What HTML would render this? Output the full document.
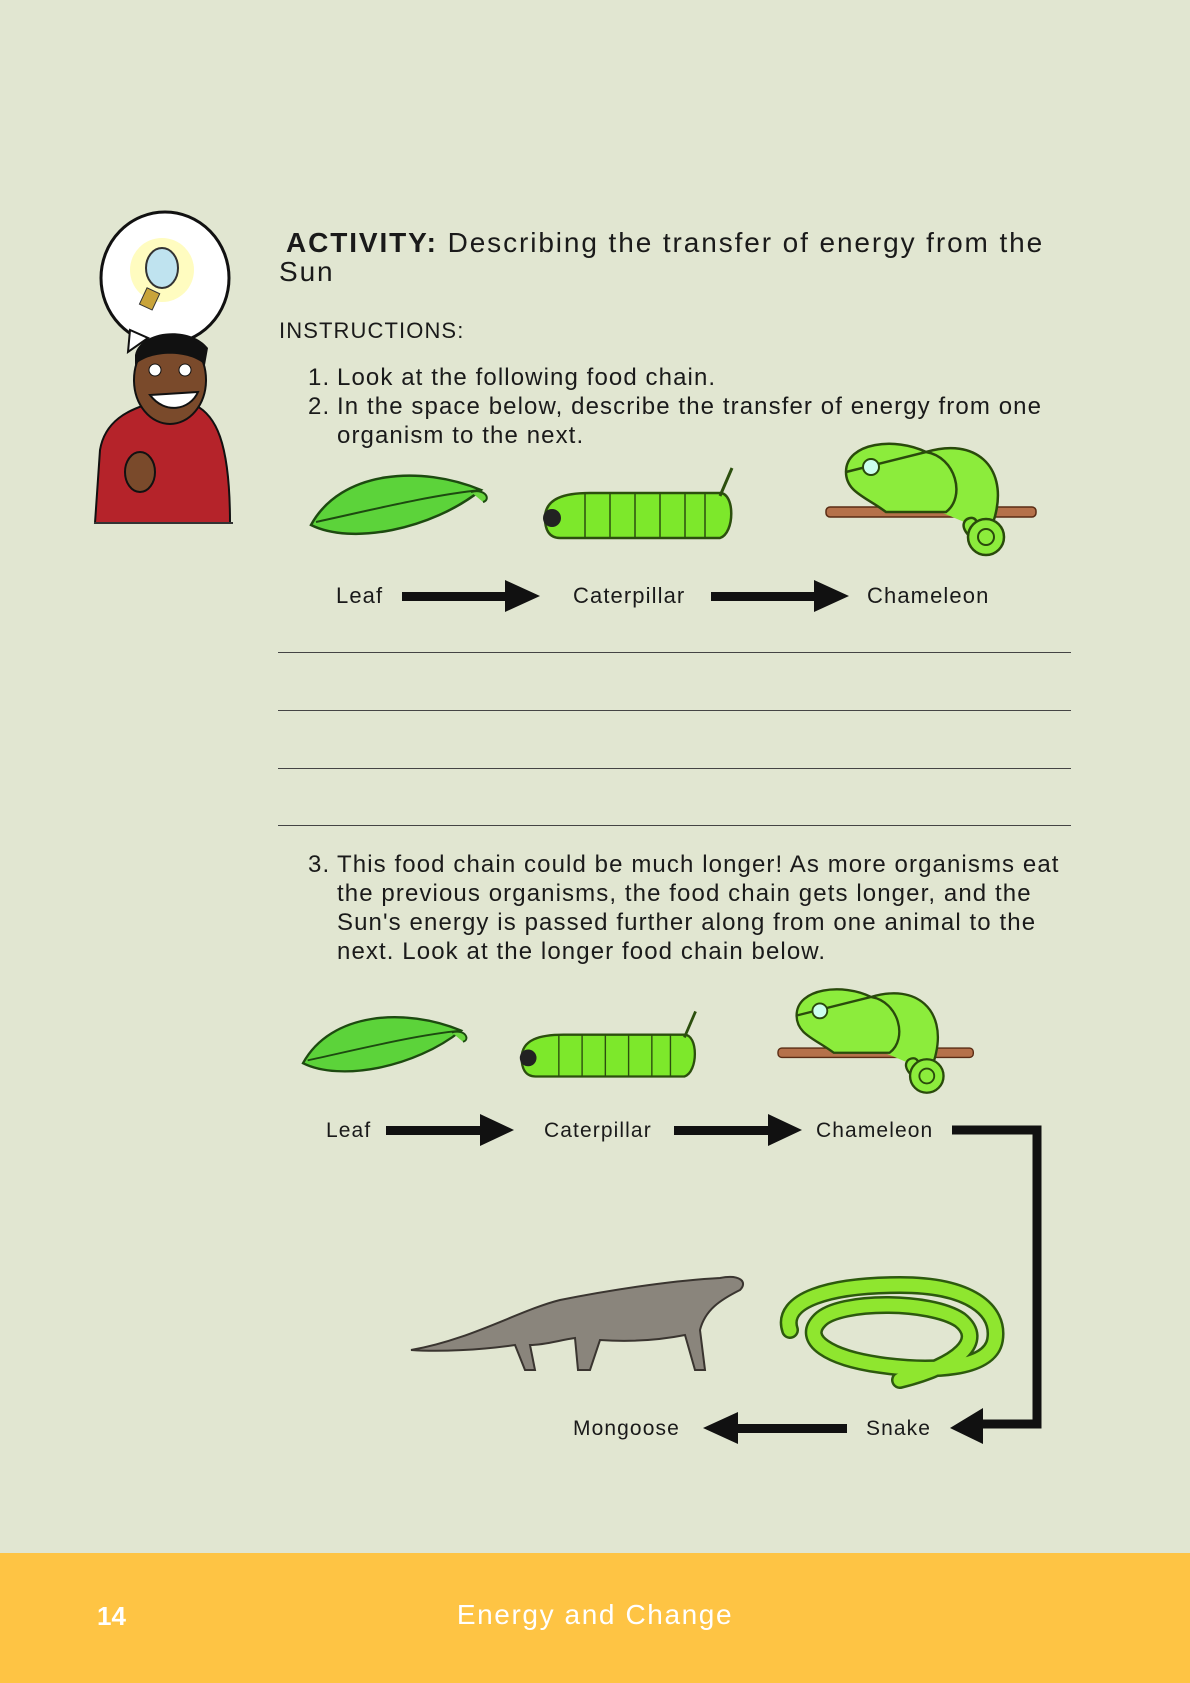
<!DOCTYPE html>
<html><head><meta charset="utf-8"><style>
body{margin:0;width:1190px;height:1683px;background:#e1e6d1;position:relative;overflow:hidden;font-family:"Liberation Sans",sans-serif;color:#1a1a1a}
.t{position:absolute;white-space:nowrap;font-size:24px;line-height:1;letter-spacing:1.1px}
.lbl{position:absolute;white-space:nowrap;font-size:22px;line-height:1;letter-spacing:1.1px}
.rule{position:absolute;left:278px;width:793px;height:1px;background:#444}
svg{position:absolute;left:0;top:0}
</style></head><body>
<div class="t" style="left:286px;top:229px;font-size:28px;letter-spacing:1.9px"><b>ACTIVITY:</b> Describing the transfer of energy from the</div>
<div class="t" style="left:279px;top:258px;font-size:28px;letter-spacing:1.9px">Sun</div>
<div class="t" style="left:279px;top:320px;font-size:22px">INSTRUCTIONS:</div>
<div class="t" style="left:308px;top:366px">1.</div>
<div class="t" style="left:337px;top:366px">Look at the following food chain.</div>
<div class="t" style="left:308px;top:395px">2.</div>
<div class="t" style="left:337px;top:395px">In the space below, describe the transfer of energy from one</div>
<div class="t" style="left:337px;top:424px">organism to the next.</div>

<div class="lbl" style="left:336px;top:585px">Leaf</div>
<div class="lbl" style="left:573px;top:585px">Caterpillar</div>
<div class="lbl" style="left:867px;top:585px">Chameleon</div>

<div class="rule" style="top:652px"></div>
<div class="rule" style="top:710px"></div>
<div class="rule" style="top:768px"></div>
<div class="rule" style="top:825px"></div>

<div class="t" style="left:308px;top:853px">3.</div>
<div class="t" style="left:337px;top:853px">This food chain could be much longer! As more organisms eat</div>
<div class="t" style="left:337px;top:882px">the previous organisms, the food chain gets longer, and the</div>
<div class="t" style="left:337px;top:911px">Sun's energy is passed further along from one animal to the</div>
<div class="t" style="left:337px;top:940px">next. Look at the longer food chain below.</div>

<div class="lbl" style="left:326px;top:1120px;font-size:21px">Leaf</div>
<div class="lbl" style="left:544px;top:1120px;font-size:21px">Caterpillar</div>
<div class="lbl" style="left:816px;top:1120px;font-size:21px">Chameleon</div>
<div class="lbl" style="left:573px;top:1418px;font-size:21px">Mongoose</div>
<div class="lbl" style="left:866px;top:1418px;font-size:21px">Snake</div>

<svg width="1190" height="1683">
<defs>
<g id="leaf"><path d="M0,55 C30,0 110,-5 170,20 C120,60 40,75 0,55Z" fill="#5cd33a" stroke="#1d4a10" stroke-width="2.5"/><path d="M5,52 C60,40 120,25 170,20" stroke="#1d4a10" stroke-width="2" fill="none"/><path d="M160,22 C175,18 180,30 172,32" fill="#6ad63f" stroke="#1d4a10" stroke-width="2"/></g>
<g id="cat"><path d="M5,30 C5,10 25,5 50,5 L180,5 C195,5 195,45 180,50 L20,50 C8,50 5,40 5,30Z" fill="#7de82b" stroke="#2c4f0e" stroke-width="2.5"/><path d="M180,8 L192,-20" stroke="#2c4f0e" stroke-width="3"/><circle cx="12" cy="30" r="9" fill="#222"/><g stroke="#2c4f0e" stroke-width="1.5"><line x1="45" y1="5" x2="45" y2="50"/><line x1="70" y1="5" x2="70" y2="50"/><line x1="95" y1="5" x2="95" y2="50"/><line x1="120" y1="5" x2="120" y2="50"/><line x1="145" y1="5" x2="145" y2="50"/><line x1="165" y1="5" x2="165" y2="50"/></g></g>
<g id="cham"><rect x="0" y="70" width="210" height="10" rx="4" fill="#b5714a" stroke="#5a2c14" stroke-width="1.5"/><path d="M20,35 C20,5 70,0 100,15 C150,0 180,30 170,75 C165,100 150,110 140,95 C130,80 155,75 150,90 M100,15 C130,20 140,60 120,75 L60,75 C40,60 20,55 20,35Z" fill="#8cec3c" stroke="#2a4a0c" stroke-width="2.5"/><circle cx="45" cy="30" r="8" fill="#cfe" stroke="#2a4a0c" stroke-width="2"/><circle cx="160" cy="100" r="18" fill="#8cec3c" stroke="#2a4a0c" stroke-width="2.5"/><circle cx="160" cy="100" r="8" fill="none" stroke="#2a4a0c" stroke-width="2"/></g>
</defs>
<use href="#leaf" transform="translate(311,470)"/>
<use href="#cat" transform="translate(540,488)"/>
<use href="#cham" transform="translate(826,437)"/>
<use href="#leaf" transform="translate(303,1012) scale(0.93)"/>
<use href="#cat" transform="translate(517,1030) scale(0.93)"/>
<use href="#cham" transform="translate(778,983) scale(0.93)"/>
<g fill="#111">
<rect x="402" y="592" width="110" height="9"/><polygon points="505,580 540,596 505,612"/>
<rect x="711" y="592" width="110" height="9"/><polygon points="814,580 849,596 814,612"/>
<rect x="386" y="1126" width="100" height="9"/><polygon points="480,1114 514,1130 480,1146"/>
<rect x="674" y="1126" width="100" height="9"/><polygon points="768,1114 802,1130 768,1146"/>
<polyline points="952,1130 1037,1130 1037,1424 975,1424" fill="none" stroke="#111" stroke-width="9"/><polygon points="983,1408 950,1428 983,1444"/>
<rect x="735" y="1424" width="112" height="9"/><polygon points="738,1412 703,1428 738,1444"/>
</g>
<g><path d="M411,1350 C470,1340 520,1310 560,1300 C620,1288 680,1280 720,1278 C740,1274 748,1282 740,1290 C720,1300 705,1310 700,1330 L705,1370 L695,1370 L685,1335 C660,1340 630,1342 600,1340 L590,1370 L578,1370 L575,1338 C560,1340 545,1345 530,1345 L535,1370 L525,1370 L515,1345 C480,1350 440,1352 411,1350Z" fill="#8a857c" stroke="#3a3530" stroke-width="2"/></g>
<g fill="none" stroke-linecap="round"><path d="M790,1330 C780,1300 830,1285 900,1285 C970,1285 1000,1310 995,1340 C990,1370 930,1372 880,1365 C830,1358 800,1340 820,1320 C840,1300 930,1300 960,1320 C985,1340 960,1365 900,1380" stroke="#2d5a0e" stroke-width="18"/><path d="M790,1330 C780,1300 830,1285 900,1285 C970,1285 1000,1310 995,1340 C990,1370 930,1372 880,1365 C830,1358 800,1340 820,1320 C840,1300 930,1300 960,1320 C985,1340 960,1365 900,1380" stroke="#8fe62f" stroke-width="13"/></g>
<g>
<ellipse cx="165" cy="278" rx="64" ry="66" fill="#fff" stroke="#111" stroke-width="3"/>
<path d="M130,330 L128,352 L148,338Z" fill="#fff" stroke="#111" stroke-width="2"/>
<circle cx="162" cy="270" r="32" fill="#fffbb0" opacity=".8"/>
<ellipse cx="162" cy="268" rx="16" ry="20" fill="#bfe3ef" stroke="#333" stroke-width="2"/><rect x="143" y="290" width="14" height="18" fill="#c9a43a" stroke="#333" transform="rotate(25 150 298)"/>
<path d="M95,523 L100,450 C105,420 130,410 145,405 L195,405 C215,415 230,440 230,523Z" fill="#b5232a" stroke="#111" stroke-width="2"/>
<ellipse cx="170" cy="380" rx="36" ry="44" fill="#7a4a2b" stroke="#111" stroke-width="2"/>
<path d="M135,355 C140,330 190,325 208,348 L205,365 C190,350 150,350 135,365Z" fill="#111"/>
<path d="M150,395 C165,415 190,410 198,392Z" fill="#fff" stroke="#111" stroke-width="2"/>
<circle cx="155" cy="370" r="6" fill="#fff" stroke="#111"/><circle cx="185" cy="370" r="6" fill="#fff" stroke="#111"/>
<ellipse cx="140" cy="472" rx="15" ry="20" fill="#7a4a2b" stroke="#111" stroke-width="2"/>
<line x1="94" y1="523" x2="233" y2="523" stroke="#333" stroke-width="2"/>
</g>
</svg>

<div style="position:absolute;left:0;top:1553px;width:1190px;height:130px;background:#fec444"></div>
<div class="t" style="left:97px;top:1603px;font-size:26px;font-weight:bold;color:#fff;letter-spacing:0">14</div>
<div class="t" style="left:435px;top:1601px;font-size:28px;color:#fff;width:320px;text-align:center;letter-spacing:1.6px">Energy and Change</div>
</body></html>
